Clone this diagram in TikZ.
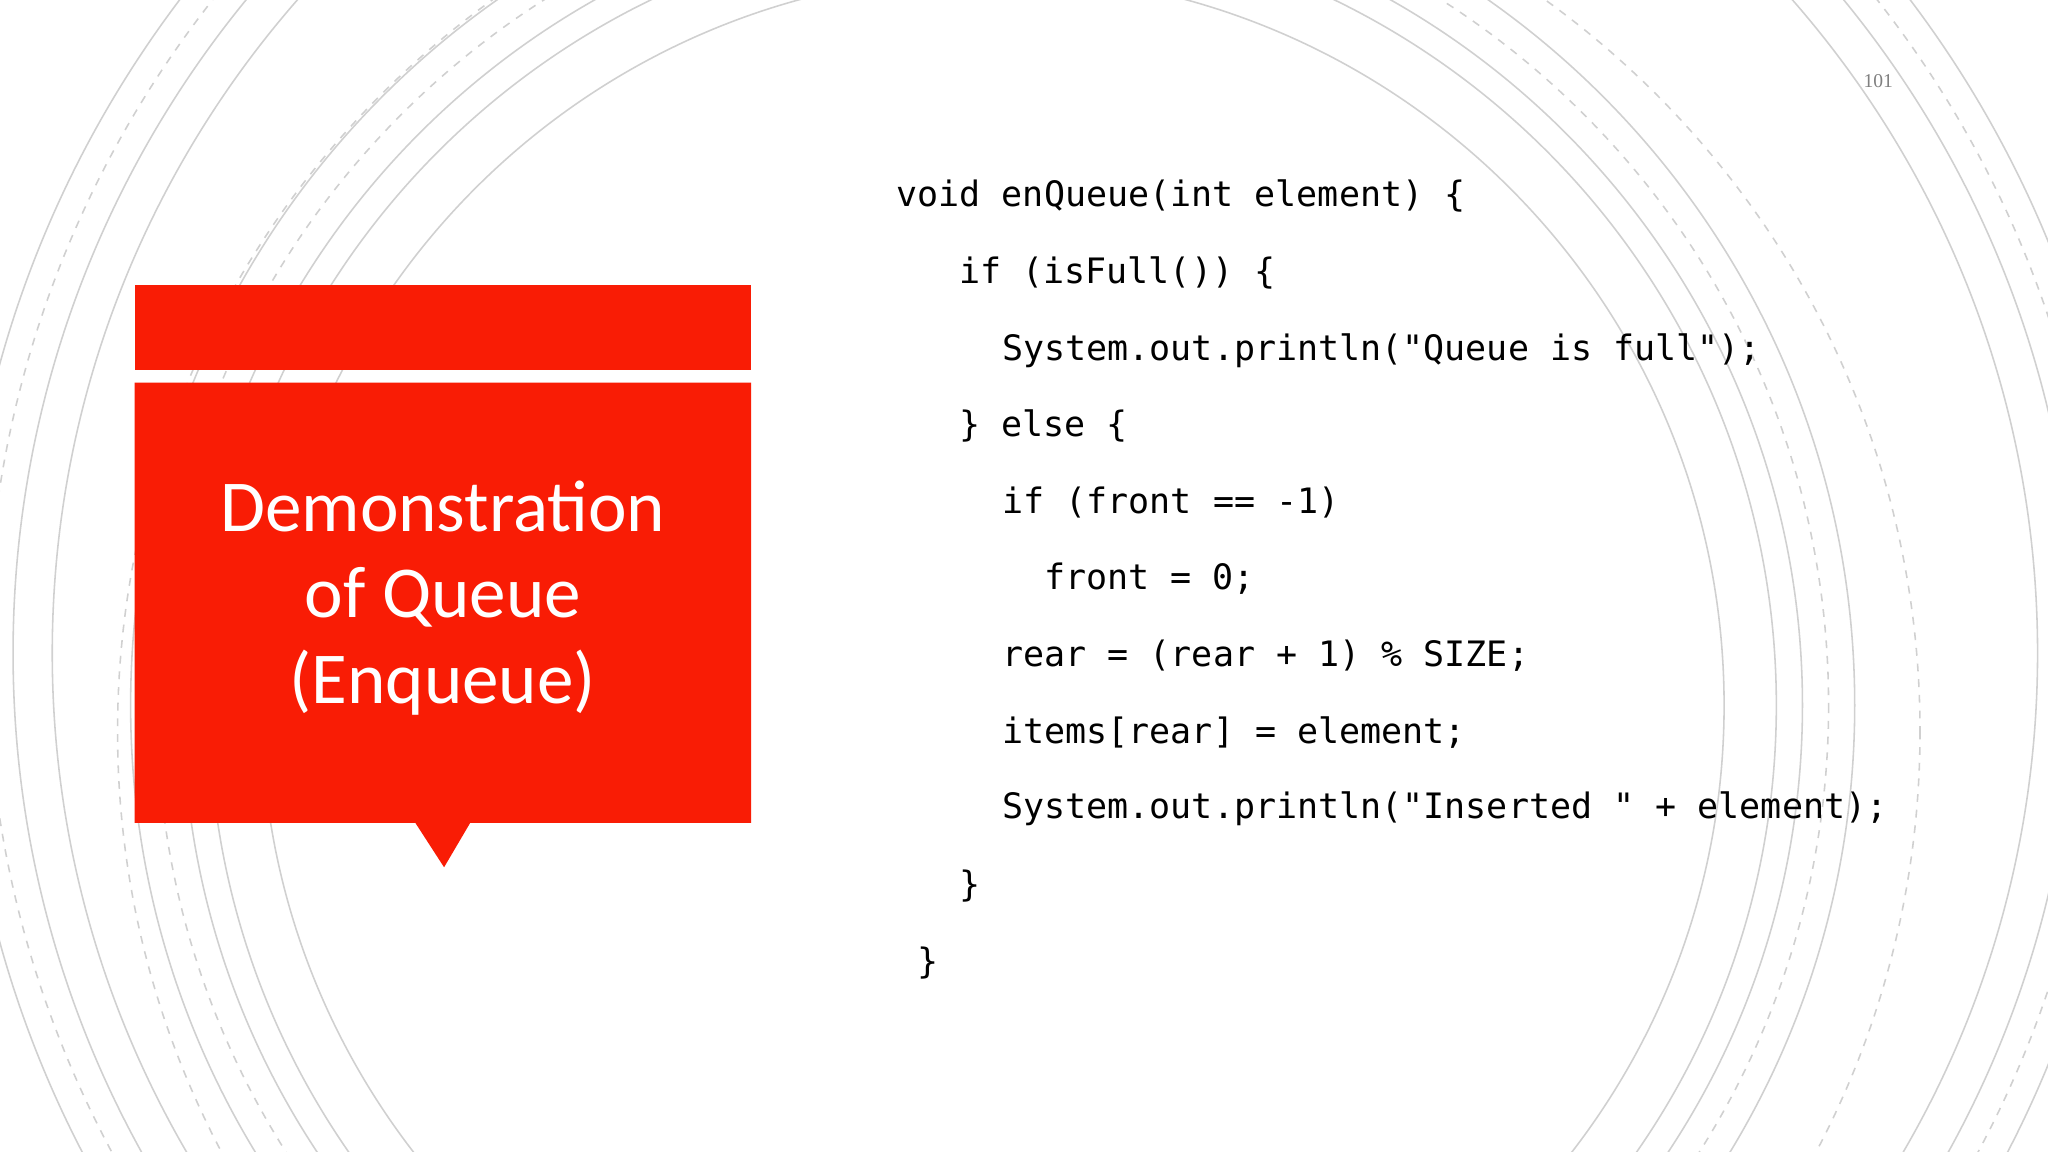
\documentclass[tikz,border=0pt]{standalone}
\usepackage{fontspec}
\setmainfont{Carlito}
\newfontfamily\codefont{DejaVu Sans Mono}
\newfontfamily\numfont{Liberation Serif}
\definecolor{slidered}{HTML}{F91C05}
\definecolor{arcgray}{HTML}{D0D0D0}
\begin{document}
\begin{tikzpicture}[x=0.5pt,y=-0.5pt,
  arc/.style={draw=arcgray,line width=0.6pt},
  darc/.style={arc,dashed},
  code/.style={anchor=base west,inner sep=0,font=\codefont\fontsize{13.4}{16}\selectfont}]
\fill[white] (0,0) rectangle (1568,882);
\useasboundingbox (0,0) rectangle (1568,882);
\begin{scope}
\clip (0,0) rectangle (1568,882);
\foreach \r in {760,790,830} \draw[arc] (800,500) circle[radius=\r];
\draw[darc] (800,500) circle[radius=810];
\foreach \r in {560,600,620,660} \draw[arc] (760,540) circle[radius=\r];
\draw[darc] (760,540) circle[radius=640];
\draw[darc] (780,560) circle[radius=690];
\end{scope}
\fill[slidered] (103,218) rectangle (575,283);
\fill[slidered] (103,293) -- (575,293) -- (575,630) -- (360,630) -- (340,664) -- (318,630) -- (103,630) -- cycle;
\node[name=title,align=center,text=white,font=\fontsize{28}{33}\selectfont] at (339,458)
  {Demonstration\\of Queue\\(Enqueue)};
\node[name=pg,text=gray,font=\numfont\fontsize{7.5}{9}\selectfont] at (1438,62) {101};
\node[code,name=c1] at (686,158) {void enQueue(int element) \{};
\node[code,name=c2] at (734,217) {if (isFull()) \{};
\node[code,name=c3] at (767,276) {System.out.println("Queue is full");};
\node[code,name=c4] at (734,334) {\} else \{};
\node[code,name=c5] at (767,393) {if (front == -1)};
\node[code,name=c6] at (799,451) {front = 0;};
\node[code,name=c7] at (767,510) {rear = (rear + 1) \% SIZE;};
\node[code,name=c8] at (767,569) {items[rear] = element;};
\node[code,name=c9] at (767,627) {System.out.println("Inserted " + element);};
\node[code,name=c10] at (734,686) {\}};
\node[code,name=c11] at (702,745) {\}};
\end{tikzpicture}
\end{document}
